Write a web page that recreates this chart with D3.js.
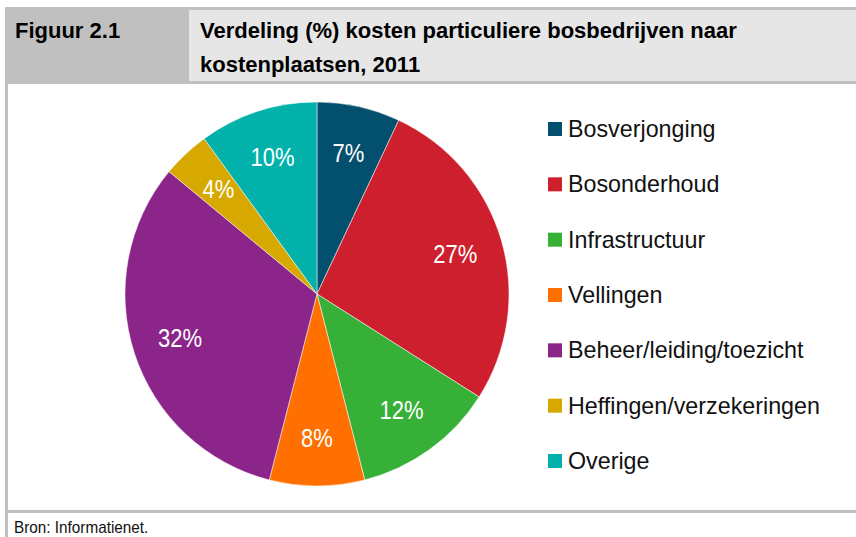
<!DOCTYPE html>
<html lang="nl">

<head>
  <meta charset="UTF-8">
  <title>Figuur 2.1 - Verdeling kosten</title>
  <script src="https://d3js.org/d3.v7.min.js"></script>
  <style>
    body {
      margin: 0;
      background: #fff;
    }

    svg {
      font-family: 'Liberation Sans', Arial, sans-serif;
    }

    .head {
      font-weight: bold;
      font-size: 22px;
      fill: #000;
    }

    .legend-text {
      font-size: 24px;
      fill: #111;
    }

    .slice-label {
      font-size: 25px;
      fill: #fff;
      text-anchor: middle;
    }

    .source {
      font-size: 17px;
      fill: #111;
    }
  </style>
</head>

<body>
  <div id="chart"></div>

  <script>
    // categories and shares (%)
    const categories = [
      'Bosverjonging',
      'Bosonderhoud',
      'Infrastructuur',
      'Vellingen',
      'Beheer/leiding/toezicht',
      'Heffingen/verzekeringen',
      'Overige'
    ];
    const shares = [7, 27, 12, 8, 32, 4, 10];
    const colors = ['#02506e', '#cd1f2e', '#36b037', '#ff7000', '#8b2589', '#d7a800', '#02b2aa'];

    const figNumber = 'Figuur 2.1';
    const titleLines = ['Verdeling (%) kosten particuliere bosbedrijven naar', 'kostenplaatsen, 2011'];
    const source = 'Bron: Informatienet.';

    const width = 856;
    const height = 537;

    // squeeze text a bit, the original uses a condensed face
    function condense(sel, factor) {
      sel.each(function () {
        const w = this.getComputedTextLength();
        d3.select(this)
          .attr('textLength', w * factor)
          .attr('lengthAdjust', 'spacingAndGlyphs');
      });
    }

    const svg = d3.select('#chart').append('svg')
      .attr('width', width)
      .attr('height', height);

    // header band
    svg.append('rect')
      .attr('x', 5).attr('y', 7)
      .attr('width', width - 5).attr('height', 77)
      .attr('fill', '#c0c0c0');
    svg.append('rect')
      .attr('x', 189).attr('y', 10)
      .attr('width', width - 189).attr('height', 71)
      .attr('fill', '#e6e6e6');

    svg.append('text')
      .attr('class', 'head')
      .attr('x', 15).attr('y', 38)
      .text(figNumber);

    svg.selectAll('.title-line')
      .data(titleLines)
      .enter().append('text')
      .attr('class', 'head title-line')
      .attr('x', 200)
      .attr('y', (d, i) => 38 + i * 34)
      .text(d => d);

    // frame lines
    svg.append('rect')
      .attr('x', 5).attr('y', 84)
      .attr('width', 3).attr('height', height - 84)
      .attr('fill', '#c0c0c0');
    svg.append('rect')
      .attr('x', 5).attr('y', 510)
      .attr('width', width - 5).attr('height', 3)
      .attr('fill', '#c0c0c0');

    svg.append('text')
      .attr('class', 'source')
      .attr('x', 14).attr('y', 533)
      .text(source)
      .call(condense, 0.9);

    // pie
    const radius = 192;
    const g = svg.append('g')
      .attr('transform', 'translate(317,294)');

    const pie = d3.pie().sort(null).value(d => d);
    const arcs = pie(shares);
    const arc = d3.arc().innerRadius(0).outerRadius(radius);
    const labelArc = d3.arc().innerRadius(144).outerRadius(144);

    g.selectAll('.slice')
      .data(arcs)
      .enter().append('path')
      .attr('class', 'slice')
      .attr('d', arc)
      .attr('fill', (d, i) => colors[i])
      .attr('stroke', '#fff')
      .attr('stroke-width', 0.5);

    g.selectAll('.slice-label')
      .data(arcs)
      .enter().append('text')
      .attr('class', 'slice-label')
      .attr('transform', d => `translate(${labelArc.centroid(d)})`)
      .attr('dy', 9)
      .text(d => d.data + '%')
      .call(condense, 0.88);

    // legend
    const legendY = d3.scalePoint()
      .domain(categories)
      .range([129, 461]);

    const legend = svg.selectAll('.legend')
      .data(categories)
      .enter().append('g')
      .attr('class', 'legend')
      .attr('transform', d => `translate(548,${legendY(d)})`);

    legend.append('rect')
      .attr('x', 0).attr('y', -7)
      .attr('width', 14).attr('height', 14)
      .attr('fill', (d, i) => colors[i]);

    legend.append('text')
      .attr('class', 'legend-text')
      .attr('x', 20)
      .attr('dy', 8)
      .text(d => d)
      .call(condense, 0.97);
  </script>

</body>

</html>
